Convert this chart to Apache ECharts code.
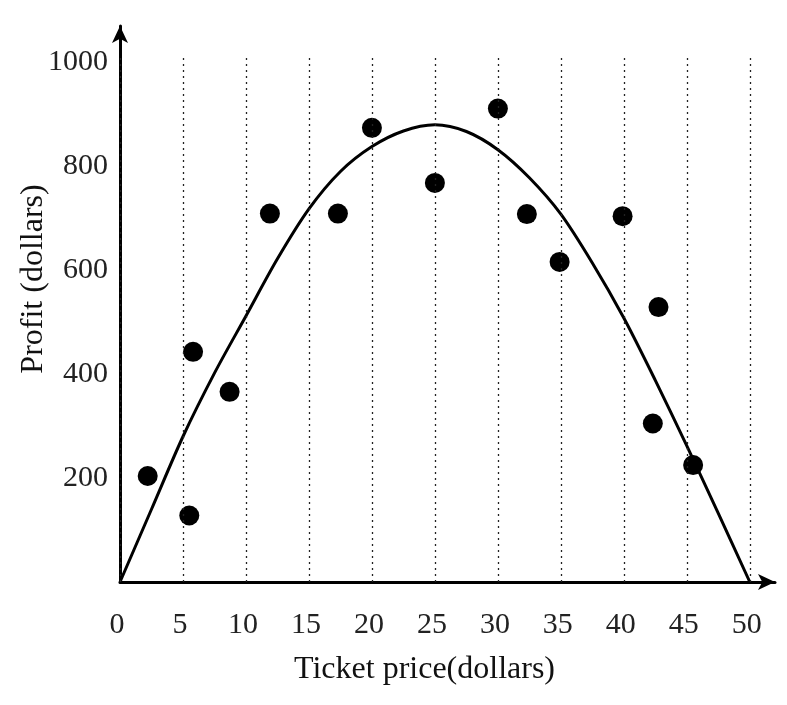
<!DOCTYPE html>
<html>
<head>
<meta charset="utf-8">
<title>Profit vs ticket price</title>
<script src="https://cdn.jsdelivr.net/npm/echarts@6/dist/echarts.min.js"></script>
<style>
	html, body { margin: 0; padding: 0; background: #fff; }
	#chart { width: 787px; height: 705px; }
</style>
</head>
<body>
<div id="chart"></div>
<script>
// observed points (ticket price, profit)
var priceData = [2.2, 5.5, 5.8, 8.7, 11.9, 17.3, 20.0, 25.0, 30.0, 32.3, 34.9, 39.9, 42.75, 42.3, 45.5];
var profitData = [204, 128, 443, 366, 709, 709, 874, 768, 911, 708, 616, 704, 529, 305, 225];

// fitted curve
var curveX = [0, 2.5, 5, 7.5, 10, 12.5, 15, 17.5, 20, 22.5, 25, 27.5, 30, 32.5, 35, 37.5, 40, 42.5, 45, 47.5, 50];
var curveY = [0, 140, 280, 402, 512, 622, 718, 790, 838, 868, 880, 867, 832, 778, 708, 614, 508, 388, 262, 132, 0];

// dotted vertical guides
var guideX = [0, 5, 10, 15, 20, 25, 30, 35, 40, 45, 50];
var guideTop = 1013;

var xTicks = [0, 5, 10, 15, 20, 25, 30, 35, 40, 45, 50];
var yTicks = [200, 400, 600, 800, 1000];

var serif = 'Liberation Serif';

var myChart = echarts.init(document.getElementById('chart'));

var points = priceData.map(function(p, i) {
	return [p, profitData[i]];
});
var curve = curveX.map(function(x, i) {
	return [x, curveY[i]];
});
var guides = guideX.map(function(x) {
	return [{ coord : [ x, 0 ] }, { coord : [ x, guideTop ] }];
});

var option = {
	animation : false,
	backgroundColor : '#fff',
	grid : {
		left : 120,
		right : 12,
		top : 26,
		bottom : 123
	},
	xAxis : {
		type : 'value',
		min : 0,
		max : 52,
		interval : 5,
		name : 'Ticket price(dollars)',
		nameLocation : 'middle',
		nameGap : 72,
		nameTextStyle : {
			fontFamily : serif,
			fontSize : 32,
			color : '#111',
			padding : [ 0, 46, 0, 0 ]
		},
		axisLine : {
			lineStyle : { color : '#000', width : 3 },
			symbol : [ 'none', 'arrow' ],
			symbolSize : [ 12, 17 ]
		},
		axisTick : { show : false },
		splitLine : { show : false },
		axisLabel : {
			fontFamily : serif,
			fontSize : 30,
			color : '#222',
			margin : 28,
			padding : [ 0, 6, 0, 0 ],
			formatter : function(v) {
				return xTicks.indexOf(v) >= 0 ? String(v) : '';
			}
		}
	},
	yAxis : {
		type : 'value',
		min : 0,
		max : 1070,
		interval : 200,
		name : 'Profit (dollars)',
		nameLocation : 'middle',
		nameGap : 70,
		nameMoveOverlap : false,
		nameRotate : 90,
		nameTextStyle : {
			fontFamily : serif,
			fontSize : 32,
			color : '#111',
			padding : [ 0, 0, 0, 50 ]
		},
		axisLine : {
			show : true,
			lineStyle : { color : '#000', width : 3 },
			symbol : [ 'none', 'arrow' ],
			symbolSize : [ 12, 17 ]
		},
		axisTick : { show : false },
		splitLine : { show : false },
		axisLabel : {
			fontFamily : serif,
			fontSize : 30,
			color : '#222',
			margin : 12,
			showMaxLabel : false,
			formatter : function(v) {
				return yTicks.indexOf(v) >= 0 ? String(v) : '';
			}
		}
	},
	series : [ {
		type : 'line',
		data : curve,
		smooth : 0.3,
		symbol : 'none',
		lineStyle : { color : '#000', width : 3 },
		markLine : {
			silent : true,
			symbol : 'none',
			label : { show : false },
			lineStyle : { color : '#222', type : [ 2, 4 ], width : 1.3 },
			data : guides
		},
		z : 3
	}, {
		type : 'scatter',
		data : points,
		symbol : 'circle',
		symbolSize : 20,
		itemStyle : { color : '#000', opacity : 1 },
		z : 4
	} ]
};

myChart.setOption(option);
</script>
</body>
</html>
